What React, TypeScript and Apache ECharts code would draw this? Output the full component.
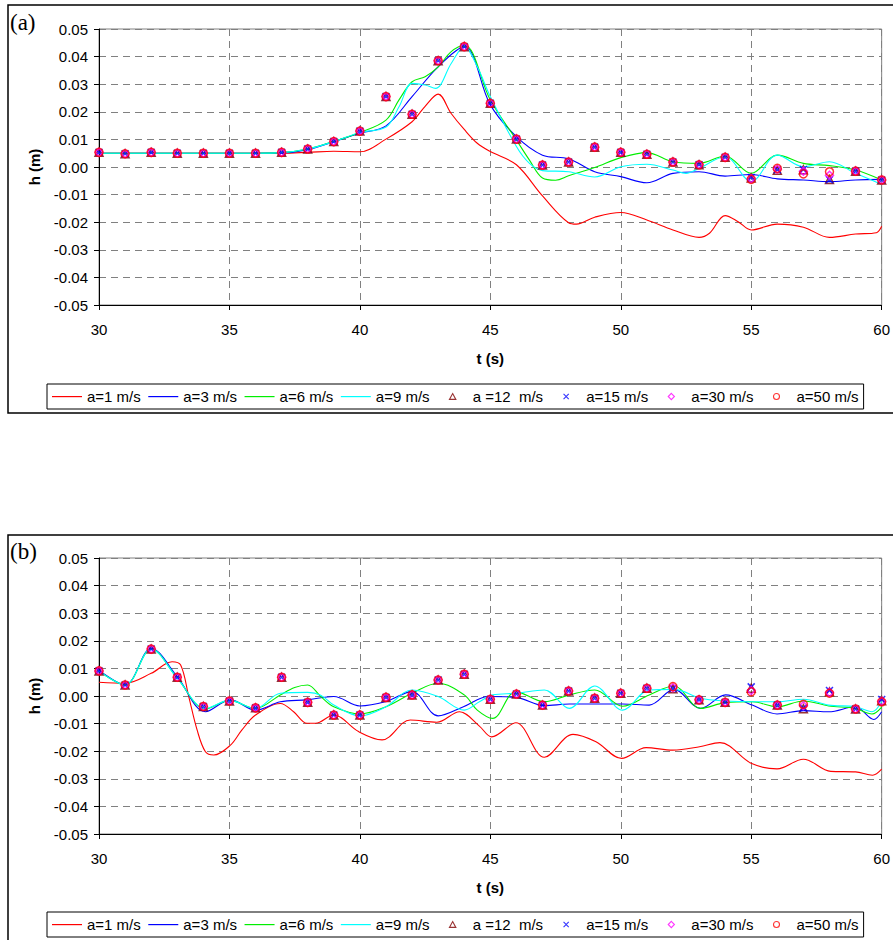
import React, { useEffect, useRef } from "react";
import * as echarts from "echarts";

const T = [30, 31, 32, 33, 34, 35, 36, 37, 38, 39, 40, 41, 42, 43, 44, 45, 46, 47, 48, 49, 50, 51, 52, 53, 54, 55, 56, 57, 58, 59, 60];

const NAMES = ["a=1 m/s", "a=3 m/s", "a=6 m/s", "a=9 m/s", "a =12  m/s", "a=15 m/s", "a=30 m/s", "a=50 m/s"];
const Y_TICKS = ["-0.05", "-0.04", "-0.03", "-0.02", "-0.01", "0.00", "0.01", "0.02", "0.03", "0.04", "0.05"];

// ---------- panel (a) ----------
const A_M12 = [0.0053, 0.0048, 0.0053, 0.005, 0.005, 0.005, 0.005, 0.0053, 0.0065, 0.0092, 0.013, 0.0255, 0.0191, 0.0385, 0.0436, 0.0231, 0.0101, 0.0007, 0.0018, 0.0072, 0.0053, 0.0046, 0.0018, 0.0008, 0.0035, -0.004, -0.0012, -0.001, -0.0045, -0.0015, -0.0047];
const A_M15 = [0.0053, 0.0048, 0.0053, 0.005, 0.005, 0.005, 0.005, 0.0053, 0.0065, 0.0092, 0.013, 0.0255, 0.0191, 0.0385, 0.0436, 0.0231, 0.0101, 0.0007, 0.0018, 0.0072, 0.0053, 0.0046, 0.0018, 0.0008, 0.0035, -0.0038, -0.001, -0.0009, -0.0046, -0.0015, -0.0047];
const A_M30 = [0.0053, 0.0048, 0.0053, 0.005, 0.005, 0.005, 0.005, 0.0053, 0.0065, 0.0092, 0.013, 0.0255, 0.0191, 0.0385, 0.0436, 0.0231, 0.0101, 0.0007, 0.0018, 0.0072, 0.0053, 0.0046, 0.0018, 0.0008, 0.0035, -0.0042, -0.0008, -0.0015, -0.003, -0.0015, -0.0047];
const A_M50 = [0.0053, 0.0048, 0.0053, 0.005, 0.005, 0.005, 0.005, 0.0053, 0.0065, 0.0092, 0.013, 0.0255, 0.0191, 0.0385, 0.0436, 0.0231, 0.0101, 0.0007, 0.0018, 0.0072, 0.0053, 0.0046, 0.0018, 0.0008, 0.0035, -0.0045, -0.0005, -0.0025, -0.0017, -0.0015, -0.0047];

const A_L1 = [[30, 0.005], [32, 0.005], [34, 0.005], [36, 0.005], [37, 0.005], [38, 0.0053], [39, 0.0057], [40, 0.0055], [41, 0.0101], [42, 0.0164], [42.5, 0.022], [43, 0.0264], [43.5, 0.0194], [44, 0.0136], [44.5, 0.0086], [45, 0.0056], [46, 0.0008], [47, -0.0105], [48, -0.0202], [48.3, -0.0207], [49, -0.0182], [50, -0.0165], [51, -0.0192], [52, -0.0228], [53, -0.0255], [53.4, -0.024], [54, -0.0176], [54.5, -0.0198], [55, -0.0228], [56, -0.0207], [57, -0.0218], [58, -0.0255], [59, -0.0243], [59.8, -0.0238], [60, -0.0215]];
const A_L3 = [[30, 0.005], [32, 0.005], [34, 0.005], [36, 0.005], [37, 0.0051], [38, 0.0063], [39, 0.0092], [40, 0.0122], [41, 0.0149], [42, 0.0255], [43, 0.0363], [44, 0.0436], [45, 0.0225], [46, 0.011], [47, 0.0043], [48, 0.003], [49, -0.0017], [50, -0.0035], [51, -0.0057], [52, -0.0023], [53, -0.0017], [54, -0.0033], [55, -0.0027], [56, -0.0043], [57, -0.0047], [58, -0.0053], [59, -0.0047], [60, -0.0045]];
const A_L6 = [[30, 0.005], [32, 0.005], [34, 0.005], [36, 0.005], [37, 0.0052], [38, 0.0065], [39, 0.0093], [40, 0.0125], [41, 0.017], [41.5, 0.0243], [42, 0.0309], [42.5, 0.0327], [43, 0.0363], [43.5, 0.0418], [44, 0.0442], [45, 0.0243], [46, 0.0098], [46.5, 0.0025], [47, -0.004], [47.5, -0.0048], [48, -0.0032], [49, -0.0002], [50, 0.0034], [51, 0.0052], [52, 0.0019], [53, 0.0013], [54, 0.004], [55, -0.0023], [56, 0.0043], [57, 0.0013], [58, 0.0005], [59, -0.0011], [60, -0.0047]];
const A_L9 = [[30, 0.005], [32, 0.005], [34, 0.005], [36, 0.005], [37, 0.0052], [38, 0.0065], [39, 0.0092], [40, 0.0125], [41, 0.0145], [41.5, 0.0218], [42, 0.0303], [42.5, 0.0297], [42.9, 0.0285], [43.5, 0.0375], [44, 0.0436], [44.5, 0.0363], [45, 0.0255], [46, 0.0074], [46.5, 0.0013], [47, -0.0013], [48, -0.0017], [49, -0.0036], [50, 0.0001], [51, 0.001], [52, -0.0011], [52.5, -0.0023], [53, -0.0005], [54, 0.0037], [55, -0.0053], [56, 0.0043], [57, 0.0001], [58, 0.0019], [59, -0.0023], [60, -0.0063]];

// ---------- panel (b) ----------
const B_M12 = [0.0091, 0.004, 0.017, 0.0068, -0.0038, -0.0018, -0.0043, 0.0068, -0.0023, -0.0069, -0.0069, -0.0005, 0.0004, 0.0058, 0.0079, -0.0012, 0.0007, -0.0033, 0.0018, -0.0008, 0.001, 0.0028, 0.0026, -0.0014, -0.0023, 0.0028, -0.0033, -0.0046, 0.0015, -0.0047, -0.0017];
const B_M15 = [0.0091, 0.004, 0.017, 0.0068, -0.0038, -0.0018, -0.0043, 0.0068, -0.0023, -0.0069, -0.0069, -0.0005, 0.0004, 0.0058, 0.0079, -0.0012, 0.0007, -0.0033, 0.0018, -0.0008, 0.001, 0.0028, 0.0027, -0.0014, -0.0023, 0.0033, -0.0033, -0.0044, 0.002, -0.0047, -0.0013];
const B_M30 = [0.0091, 0.004, 0.017, 0.0068, -0.0038, -0.0018, -0.0043, 0.0068, -0.0023, -0.0069, -0.0069, -0.0005, 0.0004, 0.0058, 0.0079, -0.0012, 0.0007, -0.0033, 0.0018, -0.0008, 0.001, 0.0028, 0.003, -0.0014, -0.0023, 0.002, -0.0033, -0.0035, 0.0013, -0.0047, -0.0019];
const B_M50 = [0.0091, 0.004, 0.017, 0.0068, -0.0038, -0.0018, -0.0043, 0.0068, -0.0023, -0.0069, -0.0069, -0.0005, 0.0004, 0.0058, 0.0079, -0.0012, 0.0007, -0.0033, 0.0018, -0.0008, 0.001, 0.0028, 0.0034, -0.0014, -0.0023, 0.0015, -0.0033, -0.003, 0.001, -0.0047, -0.0021];

const B_L1 = [[30, 0.005], [31, 0.0046], [32, 0.0082], [32.8, 0.0124], [33.13, 0.0112], [33.44, -0.0002], [33.76, -0.0123], [34.08, -0.0202], [34.4, -0.0214], [35.04, -0.0178], [35.48, -0.0123], [36, -0.0069], [36.95, -0.0027], [37.46, -0.0057], [37.97, -0.0099], [38.3, -0.0099], [39, -0.0069], [39.95, -0.0129], [40.85, -0.0159], [41.93, -0.0087], [42.95, -0.0095], [43.82, -0.0057], [44.58, -0.0109], [45.05, -0.0148], [45.98, -0.0097], [47.07, -0.0222], [48.17, -0.0139], [49.05, -0.0166], [50.03, -0.0226], [50.97, -0.0187], [51.99, -0.0196], [53.02, -0.0184], [53.8, -0.0169], [55.02, -0.0245], [55.99, -0.0264], [57.0, -0.0229], [58.05, -0.0273], [59.0, -0.0275], [59.65, -0.0287], [60, -0.0265]];
const B_L3 = [[30, 0.0094], [31, 0.004], [32, 0.0173], [33, 0.007], [34.08, -0.0057], [35.04, -0.0014], [36, -0.0051], [36.95, -0.0021], [37.97, -0.0014], [39, -0.0002], [40, -0.0036], [40.97, -0.0021], [42, 0.0016], [43, -0.0072], [43.97, -0.0039], [44.93, -0.0002], [45.98, -0.0005], [47.07, -0.0035], [48.03, -0.0029], [49.05, -0.0029], [50.07, -0.0029], [51.09, -0.0033], [52.04, 0.0024], [53.06, -0.0045], [54.02, 0.0004], [55.04, -0.0033], [55.99, -0.0065], [57.01, -0.0053], [57.97, -0.0057], [58.99, -0.0039], [59.7, -0.0085], [60, -0.0057]];
const B_L6 = [[30, 0.009], [31, 0.004], [32, 0.017], [33, 0.0065], [34.08, -0.0047], [35, -0.0016], [36, -0.0045], [36.95, 0.0004], [37.5, 0.0031], [38, 0.004], [38.5, -0.0002], [39, -0.0039], [40, -0.0065], [41, -0.0039], [42, 0.001], [43, 0.0046], [44, 0.0004], [44.5, -0.0051], [45.09, -0.0081], [45.98, 0.0016], [47.07, -0.0021], [48.03, 0.0004], [49, 0.0022], [50.07, -0.0037], [51.09, 0.0004], [52.04, 0.0036], [53.06, -0.0045], [54.02, -0.0024], [55.04, -0.0021], [55.99, -0.0039], [57.01, -0.0018], [57.97, -0.0036], [58.99, -0.0045], [59.63, -0.0065], [60, -0.004]];
const B_L9 = [[30, 0.009], [31, 0.004], [32, 0.017], [33, 0.0065], [34.08, -0.0045], [35, -0.0016], [36, -0.0045], [36.95, 0.001], [38, 0.0013], [38.5, 0.0003], [39, -0.0033], [40, -0.0072], [41, -0.0039], [42, 0.0022], [43, -0.0002], [44, -0.0051], [44.58, -0.0021], [45.09, 0.0004], [45.98, 0.001], [47.07, 0.0022], [48.03, -0.0045], [49, 0.0036], [50.07, -0.0051], [51.09, 0.0022], [52.04, 0.0024], [53.06, -0.0008], [54.02, -0.0018], [55.04, -0.0021], [55.99, -0.0021], [57.01, -0.0012], [57.97, -0.0033], [58.99, -0.0039], [59.63, -0.0057], [60, -0.002]];

const LINE_COLORS = ["#ff0000", "#0000ff", "#00ee00", "#00ffff"];
const MARK_COLORS = ["#800000", "#0000ff", "#ff00ff", "#ff0000"];
const FONT = "'Liberation Sans', Arial, sans-serif";

// legend icons drawn in a 30 x 7 box (invisible moveTo points fix the box)
const LINE_ICON = "path://M0,0M0,3L30,3L30,4.2L0,4.2ZM30,7";
const MARK_ICONS = [
  "path://M0,0M15,0.6L18.2,6.4L11.8,6.4ZM30,7",
  "path://M0,0M12.4,0.9L17.6,6.1M17.6,0.9L12.4,6.1M30,7",
  "path://M0,0M15,0.4L18.1,3.5L15,6.6L11.9,3.5ZM30,7",
  "path://M0,0M18,3.5A3,3,0,1,1,12,3.5A3,3,0,1,1,18,3.5ZM30,7",
];

function panelAxes(idx: number, top: number) {
  const grid = { left: 99, top, width: 784, height: 276, show: true, borderColor: "#808080", borderWidth: 1, backgroundColor: "transparent" };
  const xAxis = {
    gridIndex: idx, type: "value", min: 30, max: 60, interval: 5,
    name: "t (s)", nameLocation: "middle", nameGap: 46,
    nameTextStyle: { fontFamily: FONT, fontSize: 15, fontWeight: "bold", color: "#000" },
    axisLine: { show: true, onZero: false, lineStyle: { color: "#000", width: 1 } },
    axisTick: { show: true, length: 5, lineStyle: { color: "#000" } },
    axisLabel: { fontFamily: FONT, fontSize: 15, color: "#000", margin: 17 },
    splitLine: { show: true, lineStyle: { color: "#808080", type: [7, 5], width: 1 } },
  };
  const yAxis = {
    gridIndex: idx, type: "value", min: -0.05, max: 0.05, interval: 0.01,
    name: "h (m)", nameLocation: "middle", nameGap: 57,
    nameTextStyle: { fontFamily: FONT, fontSize: 15, fontWeight: "bold", color: "#000" },
    axisLine: { show: true, onZero: false, lineStyle: { color: "#000", width: 1 } },
    axisTick: { show: true, length: 5, lineStyle: { color: "#000" } },
    axisLabel: {
      fontFamily: FONT, fontSize: 15, color: "#000", margin: 11,
      formatter: (v: number) => Y_TICKS[Math.round((v + 0.05) / 0.01)],
    },
    splitLine: { show: true, lineStyle: { color: "#808080", type: [7, 5], width: 1 } },
  };
  return { grid, xAxis, yAxis };
}

function panelSeries(idx: number, lines: number[][][], marks: number[][]) {
  const out: any[] = [];
  lines.forEach((d, i) => {
    out.push({
      name: NAMES[i], type: "line", xAxisIndex: idx, yAxisIndex: idx,
      data: d, smooth: 0.35, symbol: "none", showSymbol: false,
      lineStyle: { color: LINE_COLORS[i], width: 1.1 }, itemStyle: { color: LINE_COLORS[i] },
      z: 2,
    });
  });
  const mk = [
    { symbol: "triangle", size: 8 },
    { symbol: "path://M0,0L10,10M10,0L0,10", size: 7 },
    { symbol: "diamond", size: 8 },
    { symbol: "circle", size: 8 },
  ];
  marks.forEach((m, i) => {
    out.push({
      name: NAMES[4 + i], type: "scatter", xAxisIndex: idx, yAxisIndex: idx,
      data: T.map((t, k) => [t, m[k]]),
      symbol: mk[i].symbol, symbolSize: mk[i].size,
      itemStyle: { color: "rgba(0,0,0,0)", borderColor: MARK_COLORS[i], borderWidth: 1.5 },
      z: 3 + i,
    });
  });
  return out;
}

function legendAt(top: number) {
  const data = NAMES.map((n, i) =>
    i < 4
      ? { name: n, icon: LINE_ICON, itemStyle: { color: LINE_COLORS[i], borderWidth: 0 } }
      : { name: n, icon: MARK_ICONS[i - 4], itemStyle: { color: "rgba(0,0,0,0)", borderColor: MARK_COLORS[i - 4], borderWidth: 1.1 } }
  );
  return {
    left: 47, top, orient: "horizontal", selectedMode: false,
    padding: [5, 5, 5, 5], itemGap: 7.5, itemWidth: 30, itemHeight: 7,
    borderColor: "#000", borderWidth: 1, backgroundColor: "#fff",
    textStyle: { fontFamily: FONT, fontSize: 15, color: "#000" },
    data,
  };
}

export default function App() {
  const ref = useRef<HTMLDivElement>(null);
  useEffect(() => {
    if (!ref.current) return;
    const chart = echarts.init(ref.current, null, { renderer: "svg" });
    const pa = panelAxes(0, 29);
    const pb = panelAxes(1, 558);
    chart.setOption({
      animation: false,
      backgroundColor: "#fff",
      textStyle: { fontFamily: FONT },
      grid: [pa.grid, pb.grid],
      xAxis: [pa.xAxis, pb.xAxis],
      yAxis: [pa.yAxis, pb.yAxis],
      legend: [legendAt(384), legendAt(912)],
      graphic: [
        { type: "rect", shape: { x: 8, y: 5, width: 900, height: 408 }, style: { fill: "none", stroke: "#000", lineWidth: 1.5 }, silent: true, z: -10 },
        { type: "rect", shape: { x: 8, y: 535, width: 900, height: 420 }, style: { fill: "none", stroke: "#000", lineWidth: 1.5 }, silent: true, z: -10 },
        { type: "text", left: 10, top: 11, style: { text: "(a)", fontFamily: "'Liberation Serif', 'Times New Roman', serif", fontSize: 23, fill: "#000" } },
        { type: "text", left: 10, top: 540, style: { text: "(b)", fontFamily: "'Liberation Serif', 'Times New Roman', serif", fontSize: 23, fill: "#000" } },
      ],
      series: [
        ...panelSeries(0, [A_L1, A_L3, A_L6, A_L9], [A_M12, A_M15, A_M30, A_M50]),
        ...panelSeries(1, [B_L1, B_L3, B_L6, B_L9], [B_M12, B_M15, B_M30, B_M50]),
      ],
    });
    return () => chart.dispose();
  }, []);
  return <div ref={ref} style={{ position: "absolute", left: 0, top: 0, width: 893, height: 940 }} />;
}
